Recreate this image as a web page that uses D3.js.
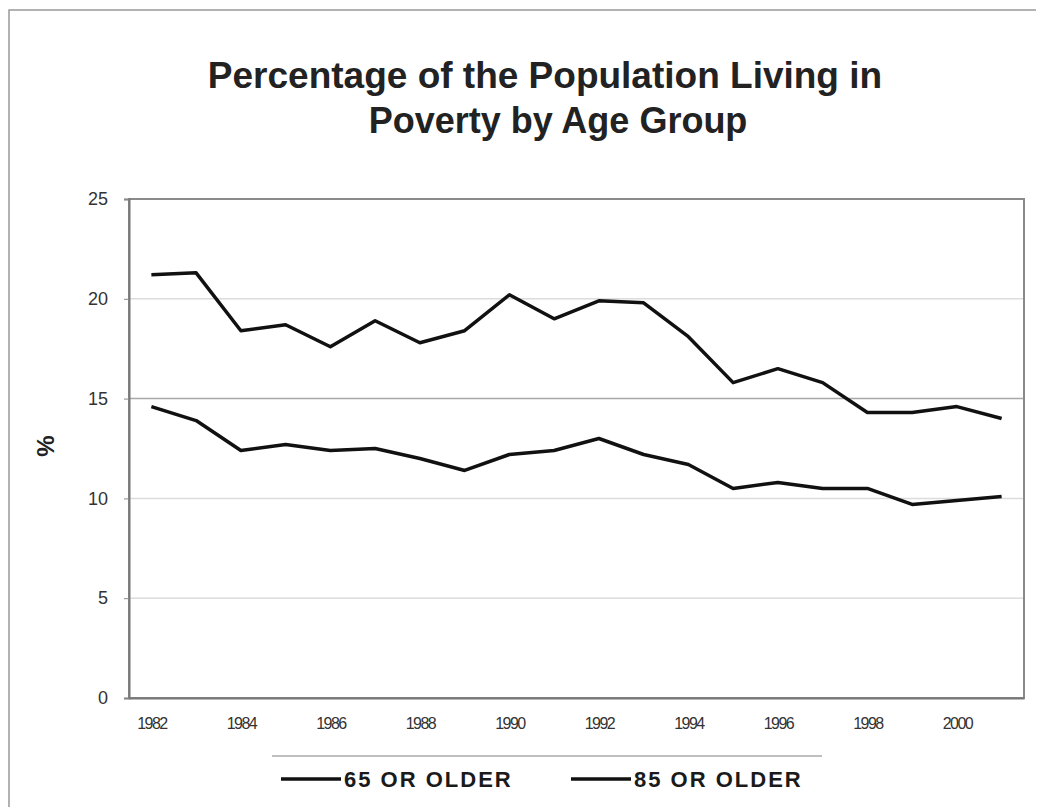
<!DOCTYPE html>
<html><head><meta charset="utf-8">
<script src="https://cdn.jsdelivr.net/npm/d3@7"></script>
<style>body{margin:0;background:#fff}svg{display:block}</style>
</head><body><div id="chart"></div>
<script>
const years = [1982,1983,1984,1985,1986,1987,1988,1989,1990,1991,1992,1993,1994,1995,1996,1997,1998,1999,2000,2001];
const seriesNames = ["65 OR OLDER","85 OR OLDER"];
const older65 = [14.6,13.9,12.4,12.7,12.4,12.5,12.0,11.4,12.2,12.4,13.0,12.2,11.7,10.5,10.8,10.5,10.5,9.7,9.9,10.1];
const older85 = [21.2,21.3,18.4,18.7,17.6,18.9,17.8,18.4,20.2,19.0,19.9,19.8,18.1,15.8,16.5,15.8,14.3,14.3,14.6,14.0];
const yTicks = [0,5,10,15,20,25];
const xTickLabels = ["1982","1984","1986","1988","1990","1992","1994","1996","1998","2000"];
const titleLines = ["Percentage of the Population Living in","Poverty by Age Group"];

(function(){
const W=1038,H=807;
const svg=d3.select("#chart").append("svg").attr("width",W).attr("height",H);
const font="Liberation Sans, Arial, sans-serif";

// outer border
svg.append("path").attr("d","M9,807V10H1036").attr("fill","none").attr("stroke","#999").attr("stroke-width",1.5);

const pL=129,pR=1024,pT=199,pB=698;
const x=d3.scalePoint().domain(years).range([pL,pR]).padding(0.5);
const y=d3.scaleLinear().domain([0,25]).range([pB,pT]);

// gridlines
svg.append("g").selectAll("line").data(yTicks.filter(d=>d>0&&d<25)).join("line")
  .attr("x1",pL).attr("x2",pR).attr("y1",d=>y(d)).attr("y2",d=>y(d))
  .attr("stroke",d=>d===15?"#a8a8a8":"#dcdcdc").attr("stroke-width",1.5);

// plot border
svg.append("rect").attr("x",pL).attr("y",pT).attr("width",pR-pL).attr("height",pB-pT)
  .attr("fill","none").attr("stroke","#8a8a8a").attr("stroke-width",2);

// y axis
const yAxis=d3.axisLeft(y).tickValues(yTicks).tickSize(5).tickPadding(16);
const gy=svg.append("g").attr("transform",`translate(${pL},0)`).call(yAxis);
gy.select(".domain").attr("stroke","#777").attr("stroke-width",2);
gy.selectAll(".tick line").attr("stroke","#888");
gy.selectAll("text").attr("font-family",font).attr("font-size",18).attr("fill","#333");

// x axis
const xAxis=d3.axisBottom(x).tickValues(years).tickSize(0).tickPadding(20)
  .tickFormat(d=>xTickLabels.includes(String(d))?String(d):"");
const gx=svg.append("g").attr("transform",`translate(0,${pB})`).call(xAxis);
gx.select(".domain").attr("stroke","#777").attr("stroke-width",2);
gx.selectAll("text").attr("font-family",font).attr("font-size",16).attr("letter-spacing","-1.6px").attr("fill","#333");

// y label
svg.append("text").attr("transform","translate(54,446) rotate(-90)").attr("text-anchor","middle")
  .attr("font-family",font).attr("font-weight","bold").attr("font-size",24).attr("fill","#222").text("%");

// lines
const line=d3.line().x((d,i)=>x(years[i])).y(d=>y(d));
[older65,older85].forEach(s=>{
  svg.append("path").datum(s).attr("d",line).attr("fill","none").attr("stroke","#111")
    .attr("stroke-width",3.5).attr("stroke-linejoin","round");
});

// title
svg.append("text").attr("x",545).attr("y",88).attr("text-anchor","middle").attr("font-family",font)
  .attr("font-weight","bold").attr("font-size",37).attr("fill","#222").text(titleLines[0]);
svg.append("text").attr("x",558).attr("y",133).attr("text-anchor","middle").attr("font-family",font)
  .attr("font-weight","bold").attr("font-size",36).attr("fill","#222").text(titleLines[1]);

// legend
svg.append("line").attr("x1",272).attr("x2",822).attr("y1",756).attr("y2",756).attr("stroke","#aaa").attr("stroke-width",1.5);
const legX=[281,571];
seriesNames.forEach((n,i)=>{
  svg.append("line").attr("x1",legX[i]).attr("x2",legX[i]+60).attr("y1",779).attr("y2",779)
    .attr("stroke","#111").attr("stroke-width",3.5);
  svg.append("text").attr("x",legX[i]+63).attr("y",787).attr("font-family",font).attr("font-weight","bold")
    .attr("font-size",22).attr("letter-spacing","2px").attr("fill","#1a1a1a").text(n);
});
})();
</script></body></html>
